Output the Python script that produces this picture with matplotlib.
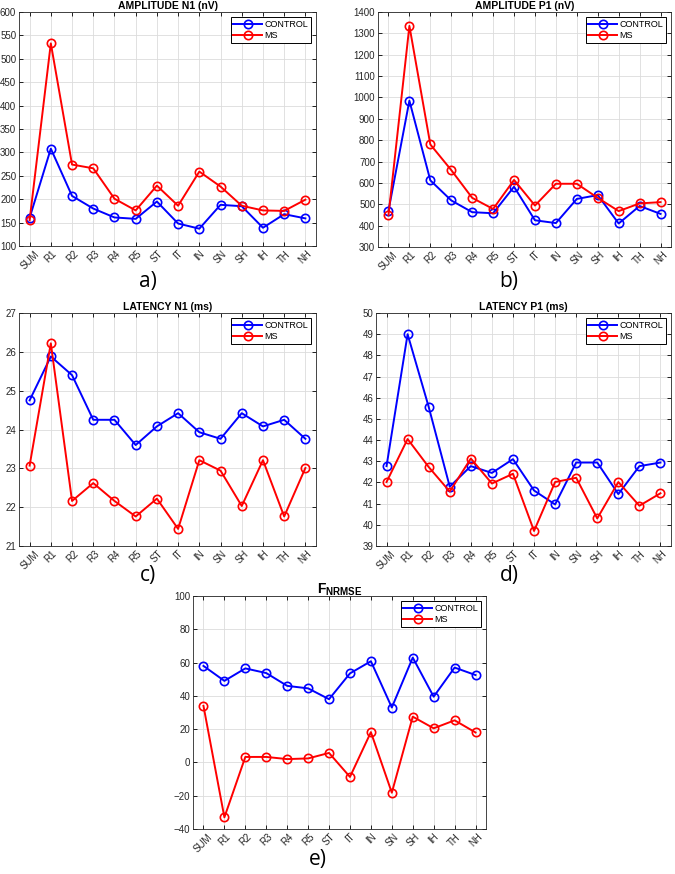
import numpy as np
import matplotlib
matplotlib.use("Agg")
import matplotlib.pyplot as plt

plt.rcParams['font.family'] = ['Liberation Sans', 'DejaVu Sans']
plt.rcParams['mathtext.fontset'] = 'custom'
plt.rcParams['mathtext.rm'] = 'Liberation Sans'
plt.rcParams['mathtext.bf'] = 'Liberation Sans:bold'

labels = ['SUM', 'R1', 'R2', 'R3', 'R4', 'R5', 'ST', 'IT', 'IN', 'SN', 'SH', 'IH', 'TH', 'NH']

amp_n1_control = [160, 308, 207, 180, 161, 158, 195, 148, 137, 188, 185, 139, 168, 159]
amp_n1_ms = [155, 533, 274, 266, 201, 176, 229, 186, 259, 227, 186, 176, 175, 199]

amp_p1_control = [470, 985, 612, 518, 463, 458, 582, 425, 412, 525, 543, 410, 492, 455]
amp_p1_ms = [448, 1335, 780, 660, 530, 478, 614, 494, 596, 596, 530, 468, 504, 510]

lat_n1_control = [24.75, 25.88, 25.40, 24.25, 24.25, 23.60, 24.08, 24.42, 23.93, 23.76, 24.42, 24.08, 24.25, 23.76]
lat_n1_ms = [23.07, 26.22, 22.16, 22.62, 22.16, 21.76, 22.22, 21.44, 23.21, 22.94, 22.03, 23.21, 21.76, 23.01]

lat_p1_control = [42.77, 49.0, 45.57, 41.80, 42.77, 42.45, 43.10, 41.62, 40.96, 42.94, 42.94, 41.45, 42.77, 42.94]
lat_p1_ms = [42.02, 44.05, 42.73, 41.57, 43.13, 41.95, 42.41, 39.71, 42.02, 42.22, 40.30, 42.02, 40.90, 41.49]

fnrmse_control = [58, 49, 56.5, 53.7, 46, 44.5, 38, 53.5, 60.8, 33, 63, 39.5, 57, 52.5]
fnrmse_ms = [34, -33, 3.3, 3.3, 2, 2.4, 5.7, -8.7, 18.2, -18.2, 27.5, 20.5, 25.3, 18]

W, H = 675, 874


def add_ax(fig, left, right, top, bottom):
    return fig.add_axes([left / W, 1 - bottom / H, (right - left) / W, (bottom - top) / H])


def draw_panel(ax, ctrl, ms, title, yticks, title_size=7.5):
    x = np.arange(len(labels))
    ax.plot(x, ctrl, color='#0000ff', lw=1.4, marker='o', ms=6, mfc='none', mew=1.2, label='CONTROL')
    ax.plot(x, ms, color='#ff0000', lw=1.4, marker='o', ms=6, mfc='none', mew=1.2, label='MS')
    ax.set_xlim(-0.5, len(labels) - 0.5)
    ax.set_ylim(yticks[0], yticks[-1])
    ax.set_xticks(x)
    ax.set_xticklabels(labels, rotation=45, fontsize=7, color='#262626')
    ax.set_yticks(yticks)
    ax.tick_params(axis='y', labelsize=7, labelcolor='#262626')
    ax.tick_params(direction='in', top=True, right=True, length=3, width=0.6, pad=2)
    ax.grid(True, color='#dcdcdc', lw=0.6)
    for s in ax.spines.values():
        s.set_linewidth(0.6)
        s.set_color('#262626')
    ax.set_title(title, fontsize=title_size, fontweight='bold', pad=2)
    leg = ax.legend(loc='upper right', fontsize=6.5, fancybox=False, framealpha=1,
                    edgecolor='black', handlelength=3.2, borderpad=0.3, labelspacing=0.2,
                    handletextpad=0.2, borderaxespad=0.6)
    leg.get_frame().set_linewidth(0.7)


def add_tag(fig, tag, xpx, ypx):
    fig.text(xpx / W, 1 - ypx / H, tag, ha='center', va='center', fontsize=15,
             family=['Open Sans', 'DejaVu Sans'])


fig = plt.figure(figsize=(W / 100, H / 100), dpi=100)

ax_a = add_ax(fig, 19, 316, 12, 246)
draw_panel(ax_a, amp_n1_control, amp_n1_ms, 'AMPLITUDE N1 (nV)', np.arange(100, 601, 50))
add_tag(fig, 'a)', 148, 282)

ax_b = add_ax(fig, 378, 671, 12, 247)
draw_panel(ax_b, amp_p1_control, amp_p1_ms, 'AMPLITUDE P1 (nV)', np.arange(300, 1401, 100))
add_tag(fig, 'b)', 509, 282)

ax_c = add_ax(fig, 19, 316, 313, 546)
draw_panel(ax_c, lat_n1_control, lat_n1_ms, 'LATENCY N1 (ms)', np.arange(21, 28, 1))
add_tag(fig, 'c)', 148, 576)

ax_d = add_ax(fig, 376, 671, 313, 546)
draw_panel(ax_d, lat_p1_control, lat_p1_ms, 'LATENCY P1 (ms)', np.arange(39, 51, 1))
add_tag(fig, 'd)', 509, 576)

ax_e = add_ax(fig, 193, 486, 596, 829)
draw_panel(ax_e, fnrmse_control, fnrmse_ms, r'$\mathbf{F}_{\mathbf{NRMSE}}$', np.arange(-40, 101, 20),
           title_size=10)
add_tag(fig, 'e)', 318, 860)

fig.savefig('out.png', dpi=100)
